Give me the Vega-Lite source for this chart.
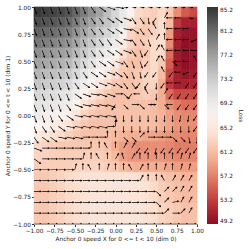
{
"$schema": "https://vega.github.io/schema/vega-lite/v6.json",
"autosize": {"type": "none"},
"padding": {"left": 34, "top": 7, "right": 52, "bottom": 25},
"width": 163,
"height": 217,
"config": {
 "font": "DejaVu Sans",
 "view": {"stroke": null},
 "axis": {"grid": false, "tickSize": 2.5, "labelFontSize": 5.8, "titleFontSize": 5.8, "labelPadding": 1, "titlePadding": 2, "domainColor": "#888", "tickColor": "#333", "labelColor": "#222", "titleColor": "#222", "titleFontWeight": "normal", "labelFlush": false, "labelOverlap": false, "labelBound": false},
 "legend": {"gradientLength": 217, "gradientThickness": 11, "offset": 10, "padding": 0, "labelFontSize": 5.8, "labelOffset": 3, "titleFontSize": 5.8, "titleFontWeight": "normal", "labelOverlap": false, "gradientStrokeWidth": 0, "labelColor": "#222", "titleColor": "#222"}
},
"data": {"values": [
{"x":-1,"y":1,"v":84.9,"a":160,"m":8},{"x":-0.9,"y":1,"v":84.4,"a":160,"m":8},{"x":-0.8,"y":1,"v":84,"a":160,"m":8},{"x":-0.7,"y":1,"v":83.5,"a":160,"m":8},{"x":-0.6,"y":1,"v":82.8,"a":160,"m":8},{"x":-0.5,"y":1,"v":81.4,"a":160,"m":8},{"x":-0.4,"y":1,"v":79.8,"a":160,"m":8},{"x":-0.3,"y":1,"v":78.4,"a":145,"m":8},{"x":-0.2,"y":1,"v":76.9,"a":125,"m":9},{"x":-0.1,"y":1,"v":74.5,"a":110,"m":9},{"x":0,"y":1,"v":72,"a":100,"m":9},{"x":0.1,"y":1,"v":69.5,"a":100,"m":5},{"x":0.2,"y":1,"v":67,"a":100,"m":5},{"x":0.3,"y":1,"v":63.5,"a":100,"m":5},{"x":0.4,"y":1,"v":63,"a":100,"m":5},{"x":0.5,"y":1,"v":62.5,"a":100,"m":5},{"x":0.6,"y":1,"v":63.5,"a":100,"m":5},{"x":0.7,"y":1,"v":62,"a":100,"m":5},{"x":0.8,"y":1,"v":58,"a":100,"m":5},{"x":0.9,"y":1,"v":55,"a":100,"m":5},{"x":1,"y":1,"v":54,"a":100,"m":5},
{"x":-1,"y":0.9,"v":83.3,"a":160,"m":8},{"x":-0.9,"y":0.9,"v":82.8,"a":160,"m":8},{"x":-0.8,"y":0.9,"v":82.4,"a":160,"m":8},{"x":-0.7,"y":0.9,"v":81.9,"a":160,"m":8},{"x":-0.6,"y":0.9,"v":81.2,"a":160,"m":8},{"x":-0.5,"y":0.9,"v":79.8,"a":160,"m":8},{"x":-0.4,"y":0.9,"v":78.2,"a":160,"m":8},{"x":-0.3,"y":0.9,"v":76.8,"a":145,"m":8},{"x":-0.2,"y":0.9,"v":75.3,"a":145,"m":8},{"x":-0.1,"y":0.9,"v":73.9,"a":125,"m":9},{"x":0,"y":0.9,"v":72.1,"a":125,"m":9},{"x":0.1,"y":0.9,"v":69.4,"a":110,"m":9},{"x":0.2,"y":0.9,"v":65,"a":145,"m":8},{"x":0.3,"y":0.9,"v":63,"a":145,"m":8},{"x":0.4,"y":0.9,"v":62,"a":170,"m":7},{"x":0.5,"y":0.9,"v":62.5,"a":215,"m":7},{"x":0.6,"y":0.9,"v":64,"a":30,"m":7},{"x":0.7,"y":0.9,"v":61,"a":270,"m":7},{"x":0.8,"y":0.9,"v":53,"a":270,"m":7},{"x":0.9,"y":0.9,"v":51,"a":100,"m":5},{"x":1,"y":0.9,"v":51,"a":100,"m":5},
{"x":-1,"y":0.8,"v":81.7,"a":160,"m":8},{"x":-0.9,"y":0.8,"v":81.2,"a":160,"m":8},{"x":-0.8,"y":0.8,"v":80.8,"a":160,"m":8},{"x":-0.7,"y":0.8,"v":80.3,"a":160,"m":8},{"x":-0.6,"y":0.8,"v":79.6,"a":160,"m":8},{"x":-0.5,"y":0.8,"v":78.2,"a":160,"m":8},{"x":-0.4,"y":0.8,"v":76.6,"a":160,"m":8},{"x":-0.3,"y":0.8,"v":75.2,"a":145,"m":8},{"x":-0.2,"y":0.8,"v":73.7,"a":145,"m":8},{"x":-0.1,"y":0.8,"v":72.3,"a":125,"m":9},{"x":0,"y":0.8,"v":70.5,"a":125,"m":9},{"x":0.1,"y":0.8,"v":67.8,"a":100,"m":9},{"x":0.2,"y":0.8,"v":63,"a":125,"m":9},{"x":0.3,"y":0.8,"v":62,"a":145,"m":8},{"x":0.4,"y":0.8,"v":62,"a":145,"m":8},{"x":0.5,"y":0.8,"v":63,"a":330,"m":7},{"x":0.6,"y":0.8,"v":64,"a":0,"m":7},{"x":0.7,"y":0.8,"v":59,"a":270,"m":7},{"x":0.8,"y":0.8,"v":51,"a":270,"m":7},{"x":0.9,"y":0.8,"v":50,"a":270,"m":7},{"x":1,"y":0.8,"v":50,"a":135,"m":7},
{"x":-1,"y":0.7,"v":80.1,"a":160,"m":8},{"x":-0.9,"y":0.7,"v":79.6,"a":160,"m":8},{"x":-0.8,"y":0.7,"v":79.2,"a":160,"m":8},{"x":-0.7,"y":0.7,"v":78.7,"a":160,"m":8},{"x":-0.6,"y":0.7,"v":78,"a":160,"m":8},{"x":-0.5,"y":0.7,"v":76.6,"a":160,"m":8},{"x":-0.4,"y":0.7,"v":75,"a":160,"m":8},{"x":-0.3,"y":0.7,"v":73.6,"a":145,"m":8},{"x":-0.2,"y":0.7,"v":72.1,"a":145,"m":8},{"x":-0.1,"y":0.7,"v":70.7,"a":145,"m":8},{"x":0,"y":0.7,"v":68.9,"a":125,"m":9},{"x":0.1,"y":0.7,"v":66,"a":100,"m":9},{"x":0.2,"y":0.7,"v":63,"a":145,"m":8},{"x":0.3,"y":0.7,"v":62,"a":145,"m":8},{"x":0.4,"y":0.7,"v":62.5,"a":160,"m":8},{"x":0.5,"y":0.7,"v":63.5,"a":30,"m":7},{"x":0.6,"y":0.7,"v":64,"a":0,"m":7},{"x":0.7,"y":0.7,"v":58,"a":270,"m":7},{"x":0.8,"y":0.7,"v":51,"a":270,"m":7},{"x":0.9,"y":0.7,"v":49.5,"a":270,"m":7},{"x":1,"y":0.7,"v":50,"a":250,"m":7},
{"x":-1,"y":0.6,"v":78.5,"a":160,"m":8},{"x":-0.9,"y":0.6,"v":78,"a":160,"m":8},{"x":-0.8,"y":0.6,"v":77.6,"a":160,"m":8},{"x":-0.7,"y":0.6,"v":77.1,"a":160,"m":8},{"x":-0.6,"y":0.6,"v":76.4,"a":160,"m":8},{"x":-0.5,"y":0.6,"v":75,"a":160,"m":8},{"x":-0.4,"y":0.6,"v":73.4,"a":160,"m":8},{"x":-0.3,"y":0.6,"v":72,"a":145,"m":8},{"x":-0.2,"y":0.6,"v":70.5,"a":145,"m":8},{"x":-0.1,"y":0.6,"v":69.1,"a":125,"m":9},{"x":0,"y":0.6,"v":67.3,"a":125,"m":9},{"x":0.1,"y":0.6,"v":64,"a":110,"m":9},{"x":0.2,"y":0.6,"v":62,"a":145,"m":8},{"x":0.3,"y":0.6,"v":61.5,"a":160,"m":8},{"x":0.4,"y":0.6,"v":62,"a":215,"m":7},{"x":0.5,"y":0.6,"v":63.5,"a":30,"m":7},{"x":0.6,"y":0.6,"v":63.5,"a":330,"m":7},{"x":0.7,"y":0.6,"v":56,"a":270,"m":7},{"x":0.8,"y":0.6,"v":50.5,"a":270,"m":7},{"x":0.9,"y":0.6,"v":49.5,"a":270,"m":7},{"x":1,"y":0.6,"v":50,"a":270,"m":7},
{"x":-1,"y":0.5,"v":76.9,"a":160,"m":8},{"x":-0.9,"y":0.5,"v":76.4,"a":160,"m":8},{"x":-0.8,"y":0.5,"v":76,"a":160,"m":8},{"x":-0.7,"y":0.5,"v":75.5,"a":160,"m":8},{"x":-0.6,"y":0.5,"v":74.8,"a":160,"m":8},{"x":-0.5,"y":0.5,"v":73.4,"a":160,"m":8},{"x":-0.4,"y":0.5,"v":71.8,"a":160,"m":8},{"x":-0.3,"y":0.5,"v":70.4,"a":145,"m":8},{"x":-0.2,"y":0.5,"v":68.9,"a":125,"m":9},{"x":-0.1,"y":0.5,"v":67.5,"a":125,"m":9},{"x":0,"y":0.5,"v":65.4,"a":110,"m":9},{"x":0.1,"y":0.5,"v":62.5,"a":145,"m":8},{"x":0.2,"y":0.5,"v":61.5,"a":160,"m":8},{"x":0.3,"y":0.5,"v":61.5,"a":160,"m":8},{"x":0.4,"y":0.5,"v":62.5,"a":215,"m":7},{"x":0.5,"y":0.5,"v":63.5,"a":30,"m":7},{"x":0.6,"y":0.5,"v":62,"a":330,"m":7},{"x":0.7,"y":0.5,"v":55,"a":135,"m":7},{"x":0.8,"y":0.5,"v":50.5,"a":270,"m":7},{"x":0.9,"y":0.5,"v":49.5,"a":270,"m":7},{"x":1,"y":0.5,"v":50,"a":330,"m":7},
{"x":-1,"y":0.4,"v":75.3,"a":160,"m":8},{"x":-0.9,"y":0.4,"v":74.8,"a":160,"m":8},{"x":-0.8,"y":0.4,"v":74.4,"a":160,"m":8},{"x":-0.7,"y":0.4,"v":73.9,"a":160,"m":8},{"x":-0.6,"y":0.4,"v":73.2,"a":160,"m":8},{"x":-0.5,"y":0.4,"v":71.8,"a":160,"m":8},{"x":-0.4,"y":0.4,"v":70.2,"a":145,"m":8},{"x":-0.3,"y":0.4,"v":68.8,"a":125,"m":9},{"x":-0.2,"y":0.4,"v":67.3,"a":125,"m":9},{"x":-0.1,"y":0.4,"v":65.6,"a":110,"m":9},{"x":0,"y":0.4,"v":63.4,"a":125,"m":9},{"x":0.1,"y":0.4,"v":62,"a":145,"m":8},{"x":0.2,"y":0.4,"v":61.5,"a":160,"m":8},{"x":0.3,"y":0.4,"v":62,"a":170,"m":7},{"x":0.4,"y":0.4,"v":63,"a":215,"m":7},{"x":0.5,"y":0.4,"v":63.5,"a":215,"m":7},{"x":0.6,"y":0.4,"v":61,"a":330,"m":7},{"x":0.7,"y":0.4,"v":54,"a":215,"m":7},{"x":0.8,"y":0.4,"v":51,"a":270,"m":7},{"x":0.9,"y":0.4,"v":50,"a":250,"m":7},{"x":1,"y":0.4,"v":50.5,"a":215,"m":7},
{"x":-1,"y":0.3,"v":73.7,"a":160,"m":8},{"x":-0.9,"y":0.3,"v":73.2,"a":160,"m":8},{"x":-0.8,"y":0.3,"v":72.8,"a":160,"m":8},{"x":-0.7,"y":0.3,"v":72.3,"a":160,"m":8},{"x":-0.6,"y":0.3,"v":71.6,"a":160,"m":8},{"x":-0.5,"y":0.3,"v":70.2,"a":145,"m":8},{"x":-0.4,"y":0.3,"v":68.6,"a":125,"m":9},{"x":-0.3,"y":0.3,"v":67.2,"a":125,"m":9},{"x":-0.2,"y":0.3,"v":65.4,"a":110,"m":9},{"x":-0.1,"y":0.3,"v":63.6,"a":110,"m":9},{"x":0,"y":0.3,"v":62,"a":125,"m":9},{"x":0.1,"y":0.3,"v":61.5,"a":145,"m":8},{"x":0.2,"y":0.3,"v":61.5,"a":145,"m":8},{"x":0.3,"y":0.3,"v":62,"a":215,"m":7},{"x":0.4,"y":0.3,"v":63,"a":215,"m":7},{"x":0.5,"y":0.3,"v":63,"a":180,"m":7},{"x":0.6,"y":0.3,"v":60,"a":215,"m":7},{"x":0.7,"y":0.3,"v":53,"a":270,"m":7},{"x":0.8,"y":0.3,"v":51,"a":270,"m":7},{"x":0.9,"y":0.3,"v":51,"a":215,"m":7},{"x":1,"y":0.3,"v":51.5,"a":215,"m":7},
{"x":-1,"y":0.2,"v":72.1,"a":160,"m":8},{"x":-0.9,"y":0.2,"v":71.6,"a":160,"m":8},{"x":-0.8,"y":0.2,"v":71.2,"a":160,"m":8},{"x":-0.7,"y":0.2,"v":70.7,"a":160,"m":8},{"x":-0.6,"y":0.2,"v":70,"a":160,"m":8},{"x":-0.5,"y":0.2,"v":68.6,"a":125,"m":9},{"x":-0.4,"y":0.2,"v":67,"a":110,"m":9},{"x":-0.3,"y":0.2,"v":65.2,"a":100,"m":9},{"x":-0.2,"y":0.2,"v":63.4,"a":110,"m":9},{"x":-0.1,"y":0.2,"v":62,"a":110,"m":9},{"x":0,"y":0.2,"v":61.5,"a":90,"m":8},{"x":0.1,"y":0.2,"v":61.5,"a":135,"m":7},{"x":0.2,"y":0.2,"v":61.5,"a":215,"m":7},{"x":0.3,"y":0.2,"v":62,"a":270,"m":7},{"x":0.4,"y":0.2,"v":62.5,"a":330,"m":7},{"x":0.5,"y":0.2,"v":62,"a":180,"m":7},{"x":0.6,"y":0.2,"v":60,"a":30,"m":7},{"x":0.7,"y":0.2,"v":56,"a":215,"m":7},{"x":0.8,"y":0.2,"v":54,"a":215,"m":7},{"x":0.9,"y":0.2,"v":54,"a":215,"m":7},{"x":1,"y":0.2,"v":54,"a":215,"m":7},
{"x":-1,"y":0.1,"v":70.5,"a":160,"m":8},{"x":-0.9,"y":0.1,"v":70,"a":160,"m":8},{"x":-0.8,"y":0.1,"v":69.6,"a":160,"m":8},{"x":-0.7,"y":0.1,"v":69.1,"a":160,"m":8},{"x":-0.6,"y":0.1,"v":68.4,"a":145,"m":8},{"x":-0.5,"y":0.1,"v":67,"a":110,"m":9},{"x":-0.4,"y":0.1,"v":65,"a":100,"m":9},{"x":-0.3,"y":0.1,"v":63.2,"a":100,"m":9},{"x":-0.2,"y":0.1,"v":62,"a":100,"m":9},{"x":-0.1,"y":0.1,"v":61.5,"a":110,"m":9},{"x":0,"y":0.1,"v":61.5,"a":215,"m":7},{"x":0.1,"y":0.1,"v":61.5,"a":135,"m":7},{"x":0.2,"y":0.1,"v":61.5,"a":90,"m":8},{"x":0.3,"y":0.1,"v":61.5,"a":135,"m":7},{"x":0.4,"y":0.1,"v":61.5,"a":90,"m":8},{"x":0.5,"y":0.1,"v":61,"a":270,"m":7},{"x":0.6,"y":0.1,"v":60,"a":135,"m":7},{"x":0.7,"y":0.1,"v":58,"a":270,"m":7},{"x":0.8,"y":0.1,"v":57,"a":215,"m":7},{"x":0.9,"y":0.1,"v":56,"a":215,"m":7},{"x":1,"y":0.1,"v":56,"a":215,"m":7},
{"x":-1,"y":0,"v":68.9,"a":160,"m":8},{"x":-0.9,"y":0,"v":68.4,"a":160,"m":8},{"x":-0.8,"y":0,"v":68,"a":160,"m":8},{"x":-0.7,"y":0,"v":67.5,"a":145,"m":8},{"x":-0.6,"y":0,"v":66.8,"a":125,"m":9},{"x":-0.5,"y":0,"v":65,"a":100,"m":9},{"x":-0.4,"y":0,"v":63,"a":100,"m":9},{"x":-0.3,"y":0,"v":62,"a":100,"m":9},{"x":-0.2,"y":0,"v":61.5,"a":100,"m":9},{"x":-0.1,"y":0,"v":61.5,"a":100,"m":9},{"x":0,"y":0,"v":61.5,"a":170,"m":7},{"x":0.1,"y":0,"v":61.5,"a":180,"m":7},{"x":0.2,"y":0,"v":61.5,"a":180,"m":7},{"x":0.3,"y":0,"v":61.5,"a":180,"m":7},{"x":0.4,"y":0,"v":61.5,"a":180,"m":7},{"x":0.5,"y":0,"v":61,"a":180,"m":7},{"x":0.6,"y":0,"v":60.5,"a":180,"m":7},{"x":0.7,"y":0,"v":59,"a":180,"m":7},{"x":0.8,"y":0,"v":58,"a":190,"m":7},{"x":0.9,"y":0,"v":57.5,"a":190,"m":7},{"x":1,"y":0,"v":57.5,"a":215,"m":7},
{"x":-1,"y":-0.1,"v":67.3,"a":160,"m":8},{"x":-0.9,"y":-0.1,"v":66.8,"a":145,"m":8},{"x":-0.8,"y":-0.1,"v":66.2,"a":145,"m":8},{"x":-0.7,"y":-0.1,"v":65.6,"a":125,"m":9},{"x":-0.6,"y":-0.1,"v":64.8,"a":100,"m":9},{"x":-0.5,"y":-0.1,"v":63,"a":100,"m":9},{"x":-0.4,"y":-0.1,"v":62,"a":100,"m":9},{"x":-0.3,"y":-0.1,"v":61.5,"a":100,"m":9},{"x":-0.2,"y":-0.1,"v":61.5,"a":100,"m":9},{"x":-0.1,"y":-0.1,"v":61.5,"a":90,"m":8},{"x":0,"y":-0.1,"v":61.5,"a":0,"m":7},{"x":0.1,"y":-0.1,"v":61.5,"a":180,"m":7},{"x":0.2,"y":-0.1,"v":61.5,"a":180,"m":7},{"x":0.3,"y":-0.1,"v":61.5,"a":180,"m":7},{"x":0.4,"y":-0.1,"v":61.5,"a":180,"m":7},{"x":0.5,"y":-0.1,"v":61,"a":180,"m":7},{"x":0.6,"y":-0.1,"v":60.5,"a":180,"m":7},{"x":0.7,"y":-0.1,"v":59.5,"a":180,"m":7},{"x":0.8,"y":-0.1,"v":58.5,"a":180,"m":7},{"x":0.9,"y":-0.1,"v":58,"a":180,"m":7},{"x":1,"y":-0.1,"v":58,"a":215,"m":7},
{"x":-1,"y":-0.2,"v":65.4,"a":145,"m":8},{"x":-0.9,"y":-0.2,"v":64.8,"a":125,"m":9},{"x":-0.8,"y":-0.2,"v":64.2,"a":125,"m":9},{"x":-0.7,"y":-0.2,"v":63.6,"a":100,"m":9},{"x":-0.6,"y":-0.2,"v":62.8,"a":100,"m":9},{"x":-0.5,"y":-0.2,"v":62,"a":100,"m":9},{"x":-0.4,"y":-0.2,"v":61.5,"a":90,"m":8},{"x":-0.3,"y":-0.2,"v":61.5,"a":90,"m":8},{"x":-0.2,"y":-0.2,"v":61.5,"a":90,"m":8},{"x":-0.1,"y":-0.2,"v":61.5,"a":0,"m":7},{"x":0,"y":-0.2,"v":61,"a":0,"m":7},{"x":0.1,"y":-0.2,"v":60.5,"a":135,"m":7},{"x":0.2,"y":-0.2,"v":60,"a":135,"m":7},{"x":0.3,"y":-0.2,"v":60,"a":45,"m":7},{"x":0.4,"y":-0.2,"v":59.5,"a":90,"m":8},{"x":0.5,"y":-0.2,"v":59.5,"a":90,"m":8},{"x":0.6,"y":-0.2,"v":59,"a":90,"m":8},{"x":0.7,"y":-0.2,"v":58.5,"a":135,"m":7},{"x":0.8,"y":-0.2,"v":58,"a":135,"m":7},{"x":0.9,"y":-0.2,"v":57.5,"a":170,"m":7},{"x":1,"y":-0.2,"v":57.5,"a":180,"m":7},
{"x":-1,"y":-0.3,"v":63.4,"a":110,"m":9},{"x":-0.9,"y":-0.3,"v":63,"a":90,"m":8},{"x":-0.8,"y":-0.3,"v":62.5,"a":90,"m":8},{"x":-0.7,"y":-0.3,"v":62,"a":90,"m":8},{"x":-0.6,"y":-0.3,"v":62,"a":90,"m":8},{"x":-0.5,"y":-0.3,"v":62,"a":90,"m":8},{"x":-0.4,"y":-0.3,"v":62,"a":90,"m":8},{"x":-0.3,"y":-0.3,"v":62,"a":0,"m":7},{"x":-0.2,"y":-0.3,"v":62,"a":0,"m":7},{"x":-0.1,"y":-0.3,"v":61.5,"a":330,"m":7},{"x":0,"y":-0.3,"v":60,"a":0,"m":7},{"x":0.1,"y":-0.3,"v":59,"a":30,"m":7},{"x":0.2,"y":-0.3,"v":58.5,"a":30,"m":7},{"x":0.3,"y":-0.3,"v":58,"a":215,"m":7},{"x":0.4,"y":-0.3,"v":58,"a":215,"m":7},{"x":0.5,"y":-0.3,"v":58,"a":190,"m":7},{"x":0.6,"y":-0.3,"v":58,"a":215,"m":7},{"x":0.7,"y":-0.3,"v":57.5,"a":215,"m":7},{"x":0.8,"y":-0.3,"v":57,"a":215,"m":7},{"x":0.9,"y":-0.3,"v":57,"a":215,"m":7},{"x":1,"y":-0.3,"v":57,"a":215,"m":7},
{"x":-1,"y":-0.4,"v":63,"a":125,"m":9},{"x":-0.9,"y":-0.4,"v":63,"a":90,"m":8},{"x":-0.8,"y":-0.4,"v":62.5,"a":90,"m":8},{"x":-0.7,"y":-0.4,"v":62.5,"a":90,"m":8},{"x":-0.6,"y":-0.4,"v":62.5,"a":90,"m":8},{"x":-0.5,"y":-0.4,"v":62.5,"a":90,"m":8},{"x":-0.4,"y":-0.4,"v":62.5,"a":15,"m":7},{"x":-0.3,"y":-0.4,"v":62.5,"a":0,"m":7},{"x":-0.2,"y":-0.4,"v":62.5,"a":330,"m":7},{"x":-0.1,"y":-0.4,"v":62,"a":0,"m":7},{"x":0,"y":-0.4,"v":61,"a":30,"m":7},{"x":0.1,"y":-0.4,"v":59,"a":345,"m":7},{"x":0.2,"y":-0.4,"v":58.5,"a":30,"m":7},{"x":0.3,"y":-0.4,"v":58.5,"a":0,"m":7},{"x":0.4,"y":-0.4,"v":58.5,"a":0,"m":7},{"x":0.5,"y":-0.4,"v":58.5,"a":0,"m":7},{"x":0.6,"y":-0.4,"v":58.5,"a":0,"m":7},{"x":0.7,"y":-0.4,"v":58,"a":0,"m":7},{"x":0.8,"y":-0.4,"v":57.5,"a":15,"m":7},{"x":0.9,"y":-0.4,"v":57.5,"a":15,"m":7},{"x":1,"y":-0.4,"v":57.5,"a":15,"m":7},
{"x":-1,"y":-0.5,"v":62.5,"a":90,"m":8},{"x":-0.9,"y":-0.5,"v":62.5,"a":90,"m":8},{"x":-0.8,"y":-0.5,"v":62.5,"a":90,"m":8},{"x":-0.7,"y":-0.5,"v":62.5,"a":90,"m":8},{"x":-0.6,"y":-0.5,"v":62.5,"a":90,"m":8},{"x":-0.5,"y":-0.5,"v":63,"a":15,"m":7},{"x":-0.4,"y":-0.5,"v":63,"a":0,"m":7},{"x":-0.3,"y":-0.5,"v":63,"a":330,"m":7},{"x":-0.2,"y":-0.5,"v":63,"a":0,"m":7},{"x":-0.1,"y":-0.5,"v":62.5,"a":15,"m":7},{"x":0,"y":-0.5,"v":62,"a":0,"m":7},{"x":0.1,"y":-0.5,"v":61,"a":0,"m":7},{"x":0.2,"y":-0.5,"v":60.5,"a":330,"m":7},{"x":0.3,"y":-0.5,"v":60,"a":30,"m":7},{"x":0.4,"y":-0.5,"v":60,"a":0,"m":7},{"x":0.5,"y":-0.5,"v":60,"a":0,"m":7},{"x":0.6,"y":-0.5,"v":60,"a":15,"m":7},{"x":0.7,"y":-0.5,"v":59.5,"a":0,"m":7},{"x":0.8,"y":-0.5,"v":59,"a":15,"m":7},{"x":0.9,"y":-0.5,"v":59,"a":15,"m":7},{"x":1,"y":-0.5,"v":59,"a":15,"m":7},
{"x":-1,"y":-0.6,"v":62,"a":90,"m":8},{"x":-0.9,"y":-0.6,"v":62,"a":90,"m":8},{"x":-0.8,"y":-0.6,"v":62.5,"a":90,"m":8},{"x":-0.7,"y":-0.6,"v":63,"a":90,"m":8},{"x":-0.6,"y":-0.6,"v":63.5,"a":90,"m":8},{"x":-0.5,"y":-0.6,"v":64,"a":90,"m":8},{"x":-0.4,"y":-0.6,"v":64.5,"a":90,"m":8},{"x":-0.3,"y":-0.6,"v":64.5,"a":90,"m":8},{"x":-0.2,"y":-0.6,"v":64.5,"a":90,"m":8},{"x":-0.1,"y":-0.6,"v":64.5,"a":90,"m":8},{"x":0,"y":-0.6,"v":64.5,"a":90,"m":8},{"x":0.1,"y":-0.6,"v":64.5,"a":90,"m":8},{"x":0.2,"y":-0.6,"v":64.5,"a":90,"m":8},{"x":0.3,"y":-0.6,"v":64,"a":30,"m":7},{"x":0.4,"y":-0.6,"v":63.5,"a":0,"m":7},{"x":0.5,"y":-0.6,"v":63,"a":0,"m":7},{"x":0.6,"y":-0.6,"v":62,"a":330,"m":7},{"x":0.7,"y":-0.6,"v":61.5,"a":30,"m":7},{"x":0.8,"y":-0.6,"v":61,"a":30,"m":7},{"x":0.9,"y":-0.6,"v":60.5,"a":30,"m":7},{"x":1,"y":-0.6,"v":60.5,"a":30,"m":7},
{"x":-1,"y":-0.7,"v":62,"a":90,"m":8},{"x":-0.9,"y":-0.7,"v":62,"a":90,"m":8},{"x":-0.8,"y":-0.7,"v":62.5,"a":90,"m":8},{"x":-0.7,"y":-0.7,"v":63,"a":90,"m":8},{"x":-0.6,"y":-0.7,"v":63.5,"a":90,"m":8},{"x":-0.5,"y":-0.7,"v":64,"a":90,"m":8},{"x":-0.4,"y":-0.7,"v":64.5,"a":90,"m":8},{"x":-0.3,"y":-0.7,"v":65,"a":90,"m":8},{"x":-0.2,"y":-0.7,"v":65,"a":90,"m":8},{"x":-0.1,"y":-0.7,"v":65,"a":90,"m":8},{"x":0,"y":-0.7,"v":65,"a":90,"m":8},{"x":0.1,"y":-0.7,"v":65,"a":90,"m":8},{"x":0.2,"y":-0.7,"v":65,"a":90,"m":8},{"x":0.3,"y":-0.7,"v":65,"a":90,"m":8},{"x":0.4,"y":-0.7,"v":64.5,"a":90,"m":8},{"x":0.5,"y":-0.7,"v":63.5,"a":135,"m":7},{"x":0.6,"y":-0.7,"v":62.5,"a":45,"m":7},{"x":0.7,"y":-0.7,"v":62,"a":45,"m":7},{"x":0.8,"y":-0.7,"v":61.5,"a":30,"m":7},{"x":0.9,"y":-0.7,"v":61,"a":30,"m":7},{"x":1,"y":-0.7,"v":61,"a":30,"m":7},
{"x":-1,"y":-0.8,"v":62,"a":90,"m":8},{"x":-0.9,"y":-0.8,"v":62,"a":90,"m":8},{"x":-0.8,"y":-0.8,"v":62.5,"a":90,"m":8},{"x":-0.7,"y":-0.8,"v":63,"a":90,"m":8},{"x":-0.6,"y":-0.8,"v":63.5,"a":90,"m":8},{"x":-0.5,"y":-0.8,"v":64,"a":90,"m":8},{"x":-0.4,"y":-0.8,"v":64.5,"a":90,"m":8},{"x":-0.3,"y":-0.8,"v":65,"a":90,"m":8},{"x":-0.2,"y":-0.8,"v":65,"a":90,"m":8},{"x":-0.1,"y":-0.8,"v":65,"a":90,"m":8},{"x":0,"y":-0.8,"v":65,"a":90,"m":8},{"x":0.1,"y":-0.8,"v":65,"a":90,"m":8},{"x":0.2,"y":-0.8,"v":65,"a":90,"m":8},{"x":0.3,"y":-0.8,"v":65,"a":90,"m":8},{"x":0.4,"y":-0.8,"v":64.5,"a":90,"m":8},{"x":0.5,"y":-0.8,"v":63.5,"a":135,"m":7},{"x":0.6,"y":-0.8,"v":62.5,"a":45,"m":7},{"x":0.7,"y":-0.8,"v":62,"a":80,"m":7},{"x":0.8,"y":-0.8,"v":61.5,"a":30,"m":7},{"x":0.9,"y":-0.8,"v":61,"a":30,"m":7},{"x":1,"y":-0.8,"v":61,"a":30,"m":7},
{"x":-1,"y":-0.9,"v":62,"a":90,"m":8},{"x":-0.9,"y":-0.9,"v":62,"a":90,"m":8},{"x":-0.8,"y":-0.9,"v":62.5,"a":90,"m":8},{"x":-0.7,"y":-0.9,"v":63,"a":90,"m":8},{"x":-0.6,"y":-0.9,"v":63.5,"a":90,"m":8},{"x":-0.5,"y":-0.9,"v":64,"a":90,"m":8},{"x":-0.4,"y":-0.9,"v":64.5,"a":90,"m":8},{"x":-0.3,"y":-0.9,"v":65,"a":90,"m":8},{"x":-0.2,"y":-0.9,"v":65,"a":90,"m":8},{"x":-0.1,"y":-0.9,"v":65,"a":90,"m":8},{"x":0,"y":-0.9,"v":65,"a":90,"m":8},{"x":0.1,"y":-0.9,"v":65,"a":90,"m":8},{"x":0.2,"y":-0.9,"v":65,"a":90,"m":8},{"x":0.3,"y":-0.9,"v":65,"a":90,"m":8},{"x":0.4,"y":-0.9,"v":64.5,"a":90,"m":8},{"x":0.5,"y":-0.9,"v":64,"a":90,"m":8},{"x":0.6,"y":-0.9,"v":63,"a":45,"m":7},{"x":0.7,"y":-0.9,"v":62.5,"a":90,"m":8},{"x":0.8,"y":-0.9,"v":62,"a":45,"m":7},{"x":0.9,"y":-0.9,"v":61.5,"a":30,"m":7},{"x":1,"y":-0.9,"v":61.5,"a":30,"m":7},
{"x":-1,"y":-1,"v":62,"a":90,"m":8},{"x":-0.9,"y":-1,"v":62,"a":90,"m":8},{"x":-0.8,"y":-1,"v":62.5,"a":90,"m":8},{"x":-0.7,"y":-1,"v":63,"a":90,"m":8},{"x":-0.6,"y":-1,"v":63.5,"a":90,"m":8},{"x":-0.5,"y":-1,"v":64,"a":90,"m":8},{"x":-0.4,"y":-1,"v":64.5,"a":90,"m":8},{"x":-0.3,"y":-1,"v":65,"a":90,"m":8},{"x":-0.2,"y":-1,"v":65,"a":90,"m":8},{"x":-0.1,"y":-1,"v":65,"a":90,"m":8},{"x":0,"y":-1,"v":65,"a":90,"m":8},{"x":0.1,"y":-1,"v":65,"a":90,"m":8},{"x":0.2,"y":-1,"v":65,"a":90,"m":8},{"x":0.3,"y":-1,"v":65,"a":90,"m":8},{"x":0.4,"y":-1,"v":64.5,"a":90,"m":8},{"x":0.5,"y":-1,"v":64,"a":90,"m":8},{"x":0.6,"y":-1,"v":63,"a":90,"m":8},{"x":0.7,"y":-1,"v":62.5,"a":90,"m":8},{"x":0.8,"y":-1,"v":62,"a":90,"m":8},{"x":0.9,"y":-1,"v":61.5,"a":90,"m":8},{"x":1,"y":-1,"v":61.5,"a":90,"m":8}
]},
"layer": [
 {
  "mark": {"type": "rect", "strokeWidth": 0.7},
  "encoding": {
   "x": {"field": "x", "type": "ordinal", "axis": null, "scale": {"paddingInner": 0, "paddingOuter": 0}},
   "y": {"field": "y", "type": "ordinal", "sort": "descending", "axis": null, "scale": {"paddingInner": 0, "paddingOuter": 0}},
   "color": {"field": "v", "type": "quantitative", "scale": {"scheme": "redgrey", "domain": [49.2, 85.2]},
    "legend": {"type": "gradient", "title": "Loss", "titleOrient": "right", "titleAngle": 270, "titleAnchor": "middle", "values": [49.2, 53.2, 57.2, 61.2, 65.2, 69.2, 73.2, 77.2, 81.2, 85.2], "format": ".1f", "direction": "vertical"}},
   "stroke": {"field": "v", "type": "quantitative", "scale": {"scheme": "redgrey", "domain": [49.2, 85.2]}, "legend": null}
  }
 },
 {
  "mark": {"type": "point", "filled": true, "color": "#000", "opacity": 1, "size": 4, "clip": true, "strokeWidth": 0},
  "encoding": {
   "x": {"field": "x", "type": "quantitative", "scale": {"domain": [-1, 1], "nice": false, "zero": false},
    "axis": {"values": [-1, -0.75, -0.5, -0.25, 0, 0.25, 0.5, 0.75, 1], "format": ".2f", "title": "Anchor 0 speed X for 0 <= t < 10 (dim 0)"}},
   "y": {"field": "y", "type": "quantitative", "scale": {"domain": [-1, 1], "nice": false, "zero": false},
    "axis": {"values": [-1, -0.75, -0.5, -0.25, 0, 0.25, 0.5, 0.75, 1], "format": ".2f", "title": "Anchor 0 speed Y for 0 <= t < 10 (dim 1)"}},
   "angle": {"field": "a", "type": "quantitative", "scale": null},
   "shape": {"field": "m", "type": "nominal", "legend": null,
    "scale": {"domain": [5, 7, 8, 9], "range": ["M-0.35,0L-0.35,-2.7L-1.15,-2.7L0,-5L1.15,-2.7L0.35,-2.7L0.35,0Z", "M-0.35,0L-0.35,-4.7L-1.15,-4.7L0,-7L1.15,-4.7L0.35,-4.7L0.35,0Z", "M-0.35,0L-0.35,-5.7L-1.15,-5.7L0,-8L1.15,-5.7L0.35,-5.7L0.35,0Z", "M-0.35,0L-0.35,-6.7L-1.15,-6.7L0,-9L1.15,-6.7L0.35,-6.7L0.35,0Z"]}}
  }
 }
],
"resolve": {"scale": {"x": "independent", "y": "independent", "stroke": "independent"}, "legend": {"stroke": "independent"}}
}
